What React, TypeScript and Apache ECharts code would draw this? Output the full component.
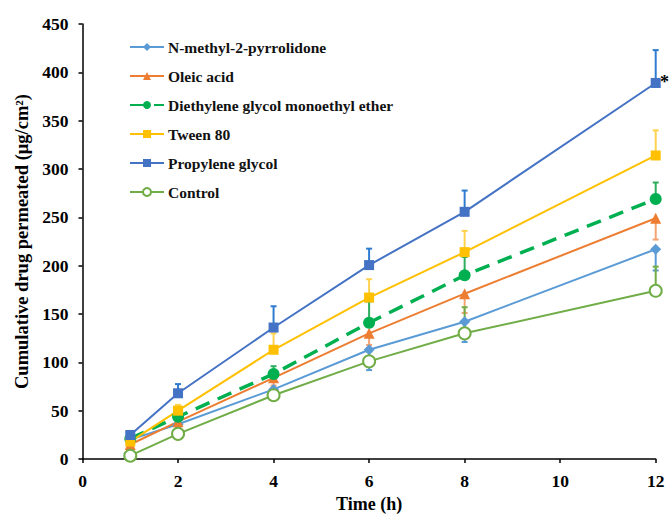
import React, { useEffect, useRef } from "react";
import * as echarts from "echarts";

const times = [1, 2, 4, 6, 8, 12];
const xTicks = [0, 2, 4, 6, 8, 10, 12];

const nmp = [20, 36, 72, 113, 142, 217];
const nmpErr = [3, 4, 8, 21, 21, 22];
const oleic = [15, 38.6, 84, 130, 171, 249];
const oleicErr = [3, 4, 8, 12, 20, 22];
const degee = [21, 43.7, 88, 141, 190, 269];
const degeeErr = [8, 5, 8, 22, 19, 17];
const tween = [18, 50, 113, 167, 214, 314];
const tweenErr = [3, 6, 17, 19, 22, 26];
const pg = [24.8, 68, 136, 200.6, 255.7, 389];
const pgErr = [3, 9.5, 22, 17, 22, 34];
const control = [3.4, 26, 66, 101, 130, 174];
const controlErr = [2, 3, 6, 10, 27, 25];

const FONT = "'Liberation Serif', 'Times New Roman', serif";

type S = {
  name: string;
  values: number[];
  err: number[];
  dir: number; // +1 upward, -1 downward
  color: string;
  errColor: string;
  symbol: string;
  size: number;
  dashed?: boolean;
  hollow?: boolean;
};

const seriesDefs: S[] = [
  { name: "N-methyl-2-pyrrolidone", values: nmp, err: nmpErr, dir: -1, color: "#5B9BD5", errColor: "#5B9BD5", symbol: "diamond", size: 11 },
  { name: "Oleic acid", values: oleic, err: oleicErr, dir: -1, color: "#ED7D31", errColor: "#F4A371", symbol: "triangle", size: 11 },
  { name: "Diethylene glycol monoethyl ether", values: degee, err: degeeErr, dir: 1, color: "#00B050", errColor: "#2EAD5E", symbol: "circle", size: 12, dashed: true },
  { name: "Tween 80", values: tween, err: tweenErr, dir: 1, color: "#FFC000", errColor: "#FFD24D", symbol: "rect", size: 10 },
  { name: "Propylene glycol", values: pg, err: pgErr, dir: 1, color: "#4472C4", errColor: "#2E7BCF", symbol: "rect", size: 10 },
  { name: "Control", values: control, err: controlErr, dir: 1, color: "#70AD47", errColor: "#70AD47", symbol: "emptyCircle", size: 12, hollow: true },
];

export default function App() {
  const ref = useRef<HTMLDivElement>(null);
  useEffect(() => {
    if (!ref.current) return;
    const chart = echarts.init(ref.current, undefined, { renderer: "svg" });

    const errorSeries = seriesDefs.map((s) => ({
      type: "custom",
      name: s.name + " err",
      z: 1,
      silent: true,
      data: times.map((t, i) => [t, s.values[i], s.err[i] * s.dir]),
      renderItem: (params: any, api: any) => {
        const x = api.value(0);
        const y = api.value(1);
        const e = api.value(2);
        const p0 = api.coord([x, y]);
        const p1 = api.coord([x, y + e]);
        return {
          type: "group",
          children: [
            { type: "line", shape: { x1: p0[0], y1: p0[1], x2: p1[0], y2: p1[1] }, style: { stroke: s.errColor, lineWidth: 2 } },
            { type: "line", shape: { x1: p1[0] - 3, y1: p1[1], x2: p1[0] + 3, y2: p1[1] }, style: { stroke: s.errColor, lineWidth: 2 } },
          ],
        };
      },
    }));

    const lineSeries = seriesDefs.map((s) => ({
      type: "line",
      name: s.name,
      z: 3,
      data: times.map((t, i) => [t, s.values[i]]),
      symbol: s.symbol,
      symbolSize: s.size,
      showAllSymbol: true,
      color: s.color,
      lineStyle: { color: s.color, width: s.dashed ? 3.5 : 2, type: s.dashed ? [15, 9] : "solid" },
      itemStyle: s.hollow
        ? { color: s.color, borderColor: s.color, borderWidth: 2.2 }
        : { color: s.color, borderColor: s.color, borderWidth: 0 },
    }));

    chart.setOption({
      animation: false,
      backgroundColor: "#ffffff",
      grid: { left: 82.5, right: 13.3, top: 24, bottom: 55, outerBoundsMode: "none", containLabel: false },
      legend: {
        orient: "vertical",
        left: 129,
        top: 39,
        padding: 0,
        itemWidth: 34,
        itemHeight: 10,
        itemGap: 13,
        data: seriesDefs.map((s) => s.name),
        textStyle: { fontFamily: FONT, fontWeight: "bold", fontSize: 15.5, color: "#111", padding: [0, 0, 0, -1] },
      },
      xAxis: {
        type: "value",
        min: 0,
        max: 12,
        interval: 2,
        name: "Time (h)",
        nameLocation: "middle",
        nameGap: 30,
        nameTextStyle: { fontFamily: FONT, fontWeight: "bold", fontSize: 18, color: "#000" },
        axisLine: { lineStyle: { color: "#000", width: 1.5 } },
        axisTick: { length: 4, lineStyle: { color: "#000", width: 1.5 } },
        axisLabel: { fontFamily: FONT, fontWeight: "bold", fontSize: 17.5, color: "#000", margin: 13 },
        splitLine: { show: false },
      },
      yAxis: {
        type: "value",
        min: 0,
        max: 450,
        interval: 50,
        name: "Cumulative drug permeated (μg/cm²)",
        nameLocation: "middle",
        nameGap: 51,
        nameTextStyle: { fontFamily: FONT, fontWeight: "bold", fontSize: 18.5, color: "#000" },
        axisLine: { show: true, lineStyle: { color: "#000", width: 1.5 } },
        axisTick: { show: true, length: 4, lineStyle: { color: "#000", width: 1.5 } },
        axisLabel: { fontFamily: FONT, fontWeight: "bold", fontSize: 17.5, color: "#000", margin: 14 },
        splitLine: { show: false },
      },
      graphic: [
        { type: "text", left: 660, top: 73, style: { text: "*", font: `bold 18px ${FONT}`, fill: "#000" } },
      ],
      series: [...errorSeries, ...lineSeries],
    });
    return () => chart.dispose();
  }, []);
  return <div ref={ref} style={{ position: "fixed", left: 0, top: 0, width: 669, height: 514 }} />;
}
